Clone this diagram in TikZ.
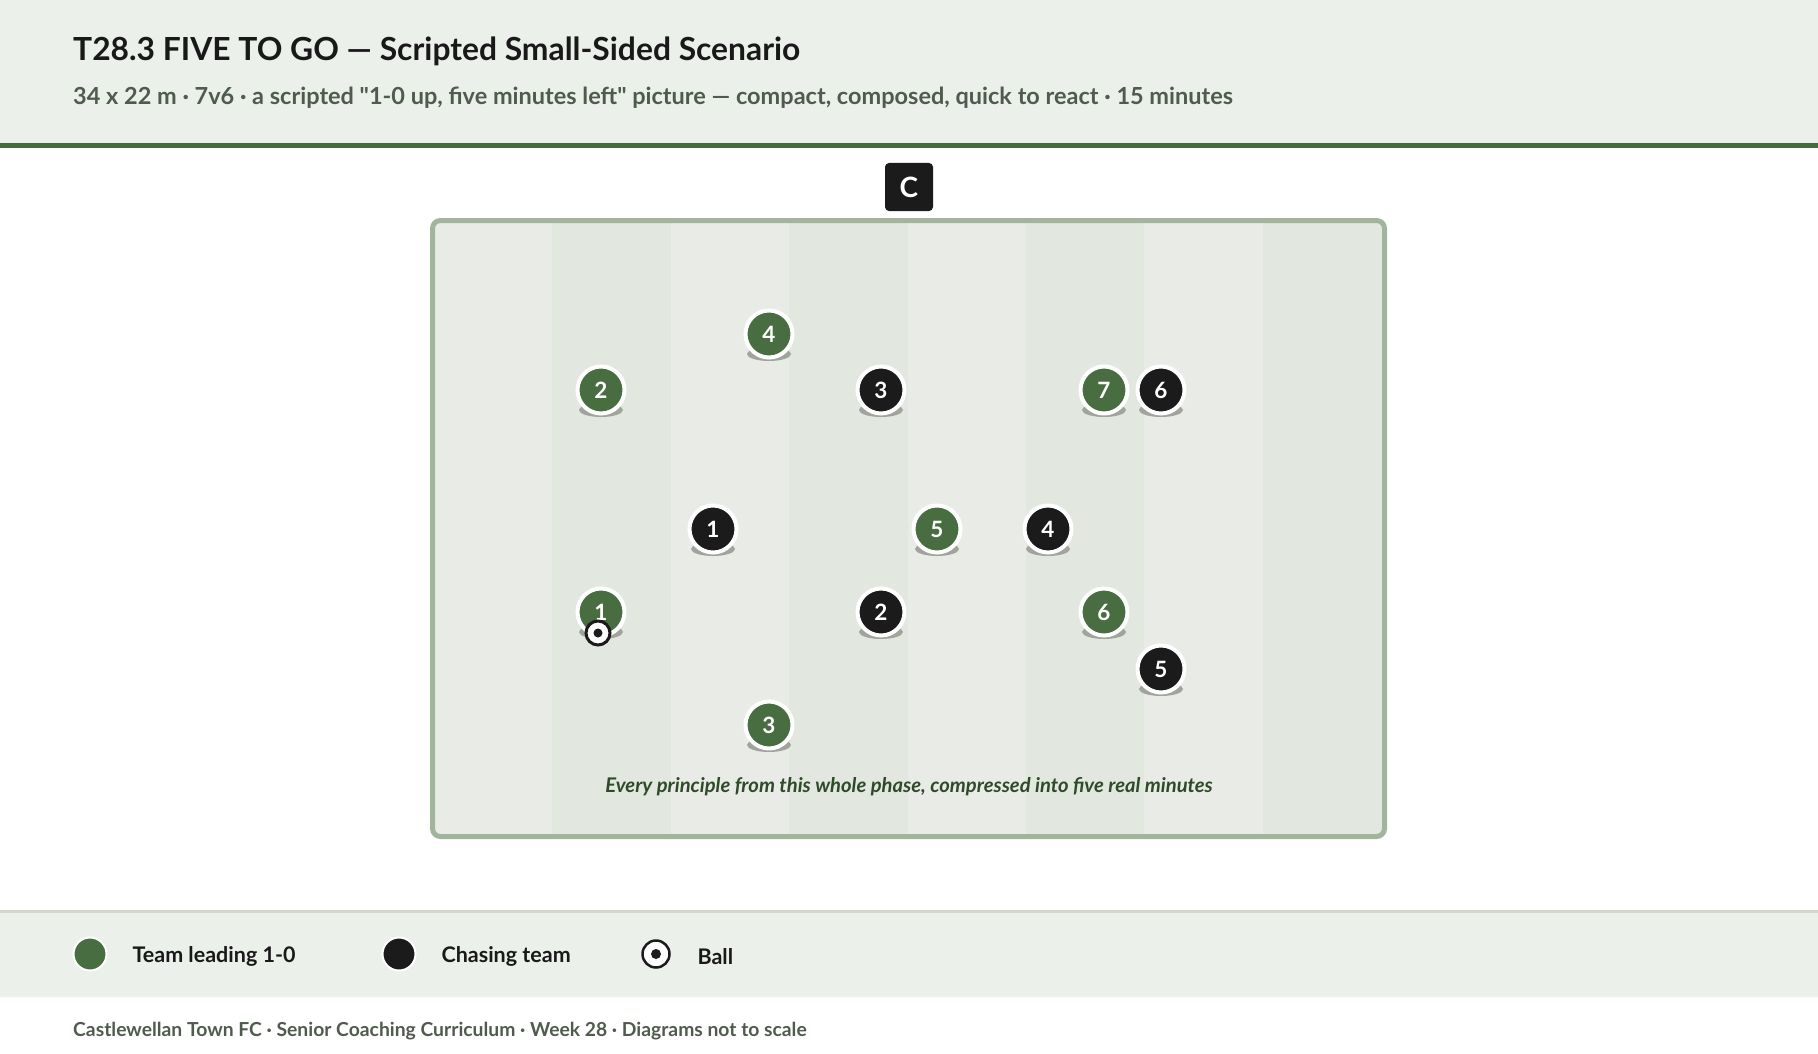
\documentclass[tikz,border=0pt]{standalone}
\usepackage{fontspec}
\setmainfont{Lato}[Ligatures=TeXOff, BoldFont={Lato Bold}, BoldItalicFont={Lato Bold Italic}]
\definecolor{headbg}{HTML}{ECF0EB}
\definecolor{headline}{HTML}{466B3F}
\definecolor{subc}{HTML}{4F5B4D}
\definecolor{teamg}{HTML}{476D40}
\definecolor{teamb}{HTML}{1B1B1B}
\definecolor{pitchline}{HTML}{A1B59C}
\definecolor{stripeA}{HTML}{E9ECE6}
\definecolor{stripeB}{HTML}{E2E8DF}
\definecolor{captc}{HTML}{2F4A2A}
\definecolor{sepc}{HTML}{D8D5CB}
\definecolor{shadc}{HTML}{A0A49D}
\newcommand{\fsz}[1]{\fontsize{#1}{#1}\selectfont}
\newcommand{\plyr}[5]{%
  \fill[shadc] (#3,#4+20) ellipse [x radius=22, y radius=7];
  \node[#1] (#2) at (#3,#4) {#5};}
\begin{document}
\begin{tikzpicture}[x=1pt,y=-1pt,
  player/.style={circle, draw=white, line width=4, minimum size=47, inner sep=0,
    text=white, font=\bfseries\fsz{22.5}},
  gplayer/.style={player, fill=teamg},
  bplayer/.style={player, fill=teamb},
  legtext/.style={anchor=west, font=\bfseries\fsz{21.5}, text=black!90}]
\useasboundingbox (0,0) rectangle (1818,1054);
\fill[white] (0,0) rectangle (1818,1054);
% header
\fill[headbg] (0,0) rectangle (1818,143);
\fill[headline] (0,143) rectangle (1818,148);
\node[anchor=base west, inner sep=0, font=\bfseries\fsz{31.8}, text=black!90] (title) at (73,61)
  {T28.3 FIVE TO GO — Scripted Small-Sided Scenario};
\node[anchor=base west, inner sep=0, font=\bfseries\fsz{23.5}, text=subc] (sub) at (73,105)
  {34 x 22 m · 7v6 · a scripted "1-0 up, five minutes left" picture — compact, composed, quick to react · 15 minutes};
% coach
\node[fill=teamb, rounded corners=4, minimum size=48, inner sep=0, text=white,
  font=\bfseries\fsz{28}] (coach) at (909,187) {C};
% pitch
\begin{scope}
  \clip[rounded corners=6] (432.5,220.5) rectangle (1384.5,836.5);
  \foreach \i in {0,...,7} {
    \pgfmathsetmacro{\xa}{435+118.375*\i}
    \pgfmathsetmacro{\xb}{435+118.375*(\i+1)}
    \pgfmathparse{mod(\i,2)==0 ? "stripeA" : "stripeB"}
    \fill[\pgfmathresult] (\xa-1,218) rectangle (\xb+1,839);
  }
\end{scope}
\draw[pitchline, line width=5, rounded corners=8] (432.5,220.5) rectangle (1384.5,836.5);
% players
\plyr{gplayer}{g4}{769}{334}{4}
\plyr{gplayer}{g2}{601}{390}{2}
\plyr{bplayer}{b3}{881}{390}{3}
\plyr{gplayer}{g7}{1104}{390}{7}
\plyr{bplayer}{b6}{1161}{390}{6}
\plyr{bplayer}{b1}{713}{529}{1}
\plyr{gplayer}{g5}{937}{529}{5}
\plyr{bplayer}{b4}{1048}{529}{4}
\plyr{gplayer}{g1}{601}{612}{1}
\plyr{bplayer}{b2}{881}{612}{2}
\plyr{gplayer}{g6}{1104}{612}{6}
\plyr{bplayer}{b5}{1161}{669}{5}
\plyr{gplayer}{g3}{769}{725}{3}
% ball
\node[circle, fill=white, draw=teamb, line width=3, minimum size=24, inner sep=0] (ball) at (598,633) {};
\fill[teamb] (ball.center) circle [radius=4.5];
% caption
\node[font=\bfseries\itshape\fsz{20.2}, text=captc] (cap) at (909,787)
  {Every principle from this whole phase, compressed into five real minutes};
% legend
\fill[sepc] (0,909.5) rectangle (1818,912.5);
\fill[headbg] (0,912.5) rectangle (1818,997);
\node[circle, fill=teamg, draw=white, line width=2, minimum size=33, inner sep=0] (lg) at (90,954) {};
\node[legtext] (lgt) at (129,956.5) {Team leading 1-0};
\node[circle, fill=teamb, draw=white, line width=2, minimum size=33, inner sep=0] (lb) at (399,954) {};
\node[legtext] (lbt) at (438,956.5) {Chasing team};
\node[circle, fill=white, draw=teamb, line width=2.5, minimum size=27, inner sep=0] (lball) at (656,954) {};
\fill[teamb] (lball.center) circle [radius=5];
\node[legtext] (lballt) at (694,956.5) {Ball};
% footer
\node[anchor=base west, inner sep=0, font=\bfseries\fsz{19.3}, text=subc] (foot) at (73,1036)
  {Castlewellan Town FC · Senior Coaching Curriculum · Week 28 · Diagrams not to scale};
\end{tikzpicture}
\end{document}
